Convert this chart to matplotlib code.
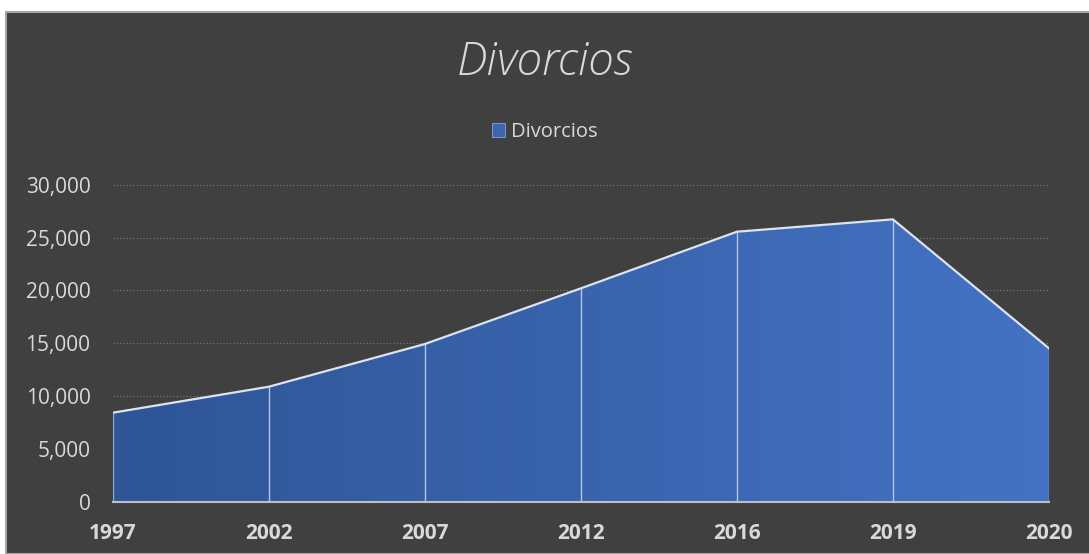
import matplotlib.pyplot as plt
import matplotlib.patches as mpatches
from matplotlib.colors import LinearSegmentedColormap
from matplotlib.ticker import FuncFormatter
import numpy as np

# divorces per year
years = ["1997", "2002", "2007", "2012", "2016", "2019", "2020"]
divorcios = [8420, 10880, 14920, 20190, 25550, 26720, 14510]

bg = "#404040"
txt = "#D9D9D9"

fig = plt.figure(figsize=(10.89, 5.54), dpi=100, facecolor="white")
# dark chart panel with its thin gray frame
fig.patches.append(mpatches.Rectangle((6 / 1089, 0), 1.0, 1 - 12 / 554, transform=fig.transFigure,
                                      facecolor=bg, edgecolor="#A6A6A6", linewidth=1.5, zorder=-5))

ax = fig.add_axes([112.7 / 1089, 1 - 501.7 / 554, (1049 - 112.7) / 1089, (501.7 - 184.7) / 554])
ax.set_facecolor("none")
ax.set_zorder(2)

x = np.arange(len(years))
y = np.array(divorcios)

# area with a left-to-right blue gradient
fill = ax.fill_between(x, 0, y, facecolor="none", edgecolor="none")
cmap = LinearSegmentedColormap.from_list("blues", ["#2E5596", "#4472C4"])
grad = np.linspace(0, 1, 256).reshape(1, -1)
img = ax.imshow(grad, cmap=cmap, extent=[0, len(years) - 1, 0, 30000], aspect="auto", zorder=2)
poly = fill.get_paths()[0]
img.set_clip_path(poly, ax.transData)

# outline and drop lines
ax.plot(x, y, color="#DCE3F0", linewidth=1.6, zorder=4, solid_joinstyle="round")
ax.vlines(x[1:-1], 0, y[1:-1], color="#B4C7E7", linewidth=1.0, zorder=3)
ax.vlines([x[0], x[-1]], 0, [y[0], y[-1]], color="#8FAADC", linewidth=1.0, zorder=3)

ax.set_xlim(0, len(years) - 1)
ax.set_ylim(0, 30000)
ax.set_yticks(np.arange(0, 30001, 5000))
ax.yaxis.set_major_formatter(FuncFormatter(lambda v, p: f"{int(v):,}"))
ax.set_xticks(x)
ax.set_xticklabels(years, fontweight="bold")

ax.grid(axis="y", color="#7A7A7A", linestyle=(0, (1, 2)), linewidth=0.8, zorder=1)
ax.set_axisbelow(True)
for s in ["top", "right", "left"]:
    ax.spines[s].set_visible(False)
ax.spines["bottom"].set_color("#BFBFBF")
ax.spines["bottom"].set_linewidth(1.5)
ax.spines["bottom"].set_zorder(5)

ax.tick_params(axis="y", length=0, pad=16, labelcolor=txt, labelsize=15)
ax.tick_params(axis="x", length=0, pad=15, labelcolor=txt, labelsize=15)
for lab in ax.get_xticklabels() + ax.get_yticklabels():
    lab.set_family("Open Sans")

fig.text(0.5, 1 - 63 / 554, "Divorcios", ha="center", va="center", color=txt,
         fontsize=33, fontstyle="italic", fontweight="light", family="Open Sans")

# legend
handle = mpatches.Patch(facecolor="#3D65B0", edgecolor="#9DB5E0", linewidth=0.5, label="Divorcios")
fig.legend(handles=[handle], loc="center", bbox_to_anchor=(0.5, 1 - 132 / 554), frameon=False,
           labelcolor=txt, prop={"family": "Open Sans", "size": 14.5},
           handlelength=0.65, handleheight=0.65, handletextpad=0.3)

fig.savefig("out.png", dpi=100, facecolor="white")
